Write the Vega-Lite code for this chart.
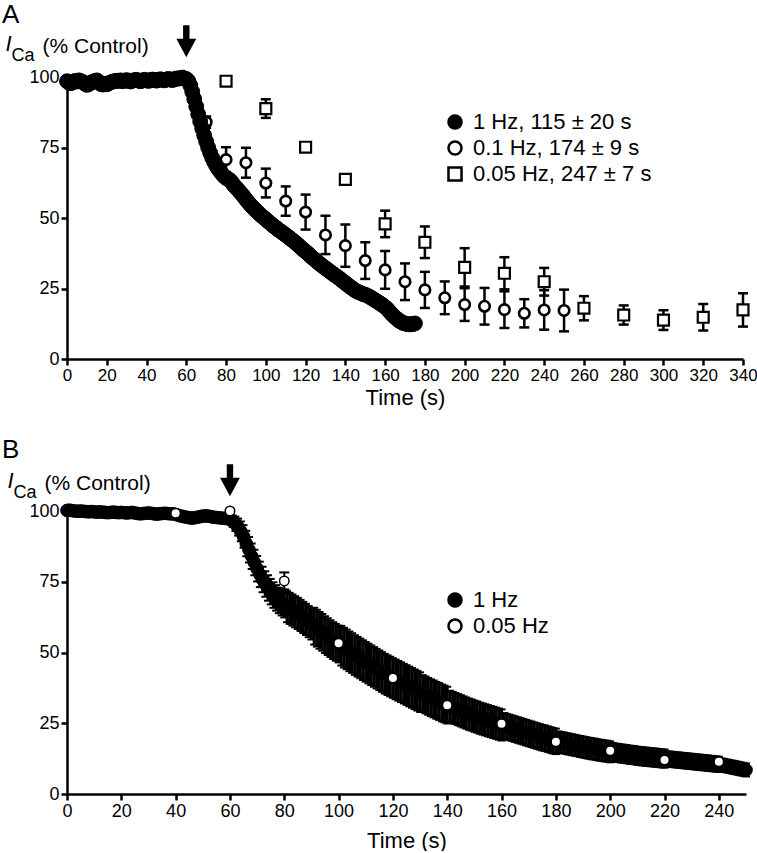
{
  "$schema": "https://vega.github.io/schema/vega-lite/v6.json",
  "background": "white",
  "padding": {"left": 2, "top": 2, "right": 0, "bottom": 0},
  "bounds": "flush",
  "spacing": 152,
  "config": {
    "font": "Liberation Sans",
    "view": {"stroke": null},
    "point": {"opacity": 1},
    "tick": {"opacity": 1},
    "rule": {"opacity": 1},
    "axis": {"domainColor": "black", "domainWidth": 2.5, "tickColor": "black", "tickWidth": 2.5, "tickSize": 6, "labelColor": "black", "labelFontSize": 18, "labelPadding": 2, "labelOverlap": false, "labelBound": false, "labelFlush": false, "titleColor": "black", "titleFontSize": 22, "titleFontWeight": "normal", "grid": false},
    "legend": {"labelFontSize": 22, "labelColor": "black", "labelLimit": 400, "symbolStrokeColor": "black", "symbolStrokeWidth": 2.5, "symbolSize": 170, "rowPadding": 2, "labelOffset": 7, "padding": 0},
    "title": {"fontSize": 26, "fontWeight": "normal", "color": "black", "anchor": "start", "frame": "group"}
  },
  "resolve": {"scale": {"shape": "independent", "fill": "independent"}, "legend": {"shape": "independent", "fill": "independent"}},
  "datasets": {
    "a1": [
      {"t":0,"v":98.5},{"t":1,"v":98},{"t":2,"v":97.8},{"t":3,"v":98.2},{"t":4,"v":98.6},{"t":5,"v":98.4},{"t":6,"v":98.8},{"t":7,"v":98.5},{"t":8,"v":98.2},{"t":9,"v":97.6},
      {"t":10,"v":97.2},{"t":11,"v":97.5},{"t":12,"v":98},{"t":13,"v":98.3},{"t":14,"v":98.6},{"t":15,"v":98.8},{"t":16,"v":98.3},{"t":17,"v":97.5},{"t":18,"v":97.3},{"t":19,"v":97.6},
      {"t":20,"v":97.4},{"t":21,"v":97.8},{"t":22,"v":98.1},{"t":23,"v":98.4},{"t":24,"v":98.5},{"t":25,"v":98.7},{"t":26,"v":98.6},{"t":27,"v":98.8},{"t":28,"v":98.5},{"t":29,"v":98.7},
      {"t":30,"v":98.9},{"t":31,"v":98.6},{"t":32,"v":98.4},{"t":33,"v":98.7},{"t":34,"v":98.9},{"t":35,"v":99},{"t":36,"v":98.7},{"t":37,"v":98.5},{"t":38,"v":98.8},{"t":39,"v":99},
      {"t":40,"v":98.8},{"t":41,"v":98.6},{"t":42,"v":98.9},{"t":43,"v":99.1},{"t":44,"v":98.9},{"t":45,"v":98.7},{"t":46,"v":99},{"t":47,"v":99.2},{"t":48,"v":99},{"t":49,"v":98.8},
      {"t":50,"v":99.1},{"t":51,"v":99.3},{"t":52,"v":99.1},{"t":53,"v":98.9},{"t":54,"v":99.2},{"t":55,"v":99.5},{"t":56,"v":99.4},{"t":57,"v":99.6},{"t":58,"v":99.8},{"t":59,"v":99.5},
      {"t":60,"v":99.3},{"t":61,"v":98.6},{"t":62,"v":97},{"t":63,"v":94.8},{"t":64,"v":92.2},{"t":65,"v":89.5},{"t":66,"v":86.8},{"t":67,"v":84.2},{"t":68,"v":81.7},{"t":69,"v":79.3},
      {"t":70,"v":77.1},{"t":71,"v":75},{"t":72,"v":73.1},{"t":73,"v":71.4},{"t":74,"v":69.9},{"t":75,"v":68.6},{"t":76,"v":67.5},{"t":77,"v":66.5},{"t":78,"v":65.6},{"t":79,"v":64.8},
      {"t":80,"v":64.2},{"t":81,"v":63.8},{"t":82,"v":63.4},{"t":83,"v":62.6},{"t":84,"v":61.5},{"t":85,"v":60.8},{"t":86,"v":60},{"t":87,"v":59.2},{"t":88,"v":58.4},{"t":89,"v":57.5},
      {"t":90,"v":56.6},{"t":91,"v":55.7},{"t":92,"v":54.9},{"t":93,"v":54.1},{"t":94,"v":53.4},{"t":95,"v":52.7},{"t":96,"v":52},{"t":97,"v":51.3},{"t":98,"v":50.7},{"t":99,"v":50.1},
      {"t":100,"v":49.5},{"t":101,"v":48.9},{"t":102,"v":48.3},{"t":103,"v":47.7},{"t":104,"v":47.1},{"t":105,"v":46.6},{"t":106,"v":46},{"t":107,"v":45.5},{"t":108,"v":45},{"t":109,"v":44.5},
      {"t":110,"v":44},{"t":111,"v":43.4},{"t":112,"v":42.9},{"t":113,"v":42.3},{"t":114,"v":41.8},{"t":115,"v":41.2},{"t":116,"v":40.6},{"t":117,"v":39.9},{"t":118,"v":39.3},{"t":119,"v":38.7},
      {"t":120,"v":38.1},{"t":121,"v":37.5},{"t":122,"v":36.9},{"t":123,"v":36.2},{"t":124,"v":35.6},{"t":125,"v":35},{"t":126,"v":34.4},{"t":127,"v":33.8},{"t":128,"v":33.3},{"t":129,"v":32.7},
      {"t":130,"v":32.2},{"t":131,"v":31.7},{"t":132,"v":31.1},{"t":133,"v":30.6},{"t":134,"v":30.1},{"t":135,"v":29.6},{"t":136,"v":29.1},{"t":137,"v":28.6},{"t":138,"v":28},{"t":139,"v":27.5},
      {"t":140,"v":26.9},{"t":141,"v":26.4},{"t":142,"v":25.8},{"t":143,"v":25.3},{"t":144,"v":24.8},{"t":145,"v":24.3},{"t":146,"v":23.9},{"t":147,"v":23.6},{"t":148,"v":23.3},{"t":149,"v":23},
      {"t":150,"v":22.8},{"t":151,"v":22.5},{"t":152,"v":22.1},{"t":153,"v":21.7},{"t":154,"v":21.3},{"t":155,"v":20.8},{"t":156,"v":20.4},{"t":157,"v":19.9},{"t":158,"v":19.5},{"t":159,"v":19},
      {"t":160,"v":18.4},{"t":161,"v":17.8},{"t":162,"v":17},{"t":163,"v":16.2},{"t":164,"v":15.5},{"t":165,"v":14.8},{"t":166,"v":14.2},{"t":167,"v":13.6},{"t":168,"v":13.2},{"t":169,"v":12.8},
      {"t":170,"v":12.6},{"t":171,"v":12.4},{"t":172,"v":12.3},{"t":173,"v":12.3},{"t":174,"v":12.4},{"t":175,"v":12.6}
    ],
    "a2": [
      {"t":70,"v":84,"e":2},{"t":80,"v":70.7,"e":4.4},{"t":90,"v":69.6,"e":5.3},{"t":100,"v":62.4,"e":5.1},{"t":110,"v":56,"e":5.2},
      {"t":120,"v":52.1,"e":6.2},{"t":130,"v":44,"e":6.8},{"t":140,"v":40.2,"e":7.5},{"t":150,"v":34.9,"e":6.5},{"t":160,"v":31.6,"e":6.7},
      {"t":170,"v":27.4,"e":6.5},{"t":180,"v":24.5,"e":6.4},{"t":190,"v":21.7,"e":5.8},{"t":200,"v":19.3,"e":5.8},{"t":210,"v":18.7,"e":6.5},
      {"t":220,"v":17.5,"e":6.5},{"t":230,"v":16.2,"e":5},{"t":240,"v":17.4,"e":7},{"t":250,"v":17.2,"e":7.4}
    ],
    "a3": [
      {"t":80,"v":98.5,"e":0.5},{"t":100,"v":88.8,"e":3.3},{"t":120,"v":75.1,"e":1.2},{"t":140,"v":63.7,"e":1.2},{"t":160,"v":47.9,"e":4.7},
      {"t":180,"v":41.4,"e":5.6},{"t":200,"v":32.5,"e":6.8},{"t":220,"v":30.4,"e":5.7},{"t":240,"v":27.4,"e":4.9},{"t":260,"v":18,"e":4.3},
      {"t":280,"v":15.6,"e":3.4},{"t":300,"v":13.8,"e":3.5},{"t":320,"v":14.8,"e":4.7},{"t":340,"v":17.4,"e":5.9}
    ],
    "b1": [
      {"t":0,"v":100.2,"e":1},{"t":1,"v":100.3,"e":1},{"t":2,"v":100.1,"e":1},{"t":3,"v":100,"e":1},{"t":4,"v":99.9,"e":1},{"t":5,"v":100,"e":1},{"t":6,"v":99.9,"e":1},{"t":7,"v":99.8,"e":1},{"t":8,"v":99.7,"e":1},{"t":9,"v":99.8,"e":1},
      {"t":10,"v":99.7,"e":1},{"t":11,"v":99.6,"e":1},{"t":12,"v":99.7,"e":1},{"t":13,"v":99.6,"e":1},{"t":14,"v":99.5,"e":1},{"t":15,"v":99.4,"e":1},{"t":16,"v":99.5,"e":1},{"t":17,"v":99.6,"e":1},{"t":18,"v":99.5,"e":1},{"t":19,"v":99.4,"e":1},
      {"t":20,"v":99.5,"e":1},{"t":21,"v":99.4,"e":1},{"t":22,"v":99.3,"e":1},{"t":23,"v":99.4,"e":1},{"t":24,"v":99.5,"e":1},{"t":25,"v":99.3,"e":1},{"t":26,"v":99.1,"e":1},{"t":27,"v":99,"e":1},{"t":28,"v":99.1,"e":1},{"t":29,"v":99.2,"e":1},
      {"t":30,"v":99.3,"e":1},{"t":31,"v":99.2,"e":1},{"t":32,"v":99,"e":1},{"t":33,"v":98.9,"e":1},{"t":34,"v":99,"e":1},{"t":35,"v":99.1,"e":1},{"t":36,"v":99.2,"e":1},{"t":37,"v":99.1,"e":1},{"t":38,"v":99,"e":1},{"t":39,"v":99,"e":1},
      {"t":40,"v":98.8,"e":1},{"t":41,"v":98.5,"e":1.5},{"t":42,"v":98.2,"e":1.5},{"t":43,"v":98,"e":1.5},{"t":44,"v":97.8,"e":1.5},{"t":45,"v":97.6,"e":1.5},{"t":46,"v":97.5,"e":1.5},{"t":47,"v":97.6,"e":1.5},{"t":48,"v":97.8,"e":1.5},{"t":49,"v":98,"e":1.5},
      {"t":50,"v":98.2,"e":1.5},{"t":51,"v":98.3,"e":1.5},{"t":52,"v":98.2,"e":1.5},{"t":53,"v":98,"e":1.5},{"t":54,"v":97.8,"e":1.5},{"t":55,"v":97.7,"e":1.5},{"t":56,"v":97.6,"e":1.5},{"t":57,"v":97.5,"e":1.5},{"t":58,"v":97.4,"e":1.5},{"t":59,"v":97.3,"e":1.5},
      {"t":60,"v":97,"e":1.5},{"t":61,"v":96.4,"e":2},{"t":62,"v":95.5,"e":2.5},{"t":63,"v":94.3,"e":3},{"t":64,"v":92.8,"e":3.5},{"t":65,"v":91,"e":4},{"t":66,"v":88.5,"e":4.5},{"t":67,"v":86.3,"e":4.5},{"t":68,"v":84,"e":4.5},{"t":69,"v":81.8,"e":4.5},
      {"t":70,"v":79.6,"e":4.5},{"t":71,"v":77.6,"e":4.5},{"t":72,"v":75.8,"e":4.5},{"t":73,"v":74.2,"e":4.5},{"t":74,"v":72.8,"e":4.5},{"t":75,"v":71.5,"e":4.5},{"t":76,"v":70.3,"e":4.5},{"t":77,"v":69.3,"e":4.5},{"t":78,"v":68.4,"e":4.5},{"t":79,"v":67.6,"e":4.5},
      {"t":80,"v":66.9,"e":4.5},{"t":81,"v":66.2,"e":5.5},{"t":82,"v":65.6,"e":5.5},{"t":83,"v":65,"e":5.5},{"t":84,"v":64.4,"e":5.5},{"t":85,"v":63.8,"e":5.5},{"t":86,"v":63.1,"e":5.5},{"t":87,"v":62.4,"e":5.5},{"t":88,"v":61.7,"e":5.5},{"t":89,"v":60.9,"e":5.5},
      {"t":90,"v":60.1,"e":5.5},{"t":91,"v":59.3,"e":6.5},{"t":92,"v":58.6,"e":6.5},{"t":93,"v":57.8,"e":6.5},{"t":94,"v":57.1,"e":6.5},{"t":95,"v":56.3,"e":6.5},{"t":96,"v":55.6,"e":6.5},{"t":97,"v":54.9,"e":6.5},{"t":98,"v":54.2,"e":6.5},{"t":99,"v":53.6,"e":6.5},
      {"t":100,"v":53,"e":6.5},{"t":101,"v":52.4,"e":7},{"t":102,"v":51.7,"e":7},{"t":103,"v":51.1,"e":7},{"t":104,"v":50.4,"e":7},{"t":105,"v":49.8,"e":7},{"t":106,"v":49.1,"e":7},{"t":107,"v":48.5,"e":7},{"t":108,"v":47.9,"e":7},{"t":109,"v":47.3,"e":7},
      {"t":110,"v":46.7,"e":7},{"t":111,"v":46.1,"e":7},{"t":112,"v":45.5,"e":7},{"t":113,"v":44.9,"e":7},{"t":114,"v":44.3,"e":7},{"t":115,"v":43.7,"e":7},{"t":116,"v":43.1,"e":7},{"t":117,"v":42.5,"e":7},{"t":118,"v":42,"e":7},{"t":119,"v":41.5,"e":7},
      {"t":120,"v":41,"e":7},{"t":121,"v":40.5,"e":7},{"t":122,"v":40,"e":7},{"t":123,"v":39.5,"e":7},{"t":124,"v":39,"e":7},{"t":125,"v":38.5,"e":7},{"t":126,"v":38,"e":7},{"t":127,"v":37.5,"e":7},{"t":128,"v":37,"e":7},{"t":129,"v":36.5,"e":7},
      {"t":130,"v":36,"e":7},{"t":131,"v":35.5,"e":6.5},{"t":132,"v":35,"e":6.5},{"t":133,"v":34.5,"e":6.5},{"t":134,"v":34,"e":6.5},{"t":135,"v":33.6,"e":6.5},{"t":136,"v":33.1,"e":6.5},{"t":137,"v":32.7,"e":6.5},{"t":138,"v":32.2,"e":6.5},{"t":139,"v":31.8,"e":6.5},
      {"t":140,"v":31.4,"e":6.5},{"t":141,"v":31,"e":5.5},{"t":142,"v":30.6,"e":5.5},{"t":143,"v":30.2,"e":5.5},{"t":144,"v":29.8,"e":5.5},{"t":145,"v":29.4,"e":5.5},{"t":146,"v":29,"e":5.5},{"t":147,"v":28.6,"e":5.5},{"t":148,"v":28.2,"e":5.5},{"t":149,"v":27.9,"e":5.5},
      {"t":150,"v":27.5,"e":5.5},{"t":151,"v":27.2,"e":5.5},{"t":152,"v":26.8,"e":5.5},{"t":153,"v":26.5,"e":5.5},{"t":154,"v":26.2,"e":5.5},{"t":155,"v":25.9,"e":5.5},{"t":156,"v":25.6,"e":5.5},{"t":157,"v":25.3,"e":5.5},{"t":158,"v":25,"e":5.5},{"t":159,"v":24.7,"e":5.5},
      {"t":160,"v":24.4,"e":5.5},{"t":161,"v":24.1,"e":4.5},{"t":162,"v":23.8,"e":4.5},{"t":163,"v":23.5,"e":4.5},{"t":164,"v":23.2,"e":4.5},{"t":165,"v":22.9,"e":4.5},{"t":166,"v":22.6,"e":4.5},{"t":167,"v":22.3,"e":4.5},{"t":168,"v":22,"e":4.5},{"t":169,"v":21.7,"e":4.5},
      {"t":170,"v":21.4,"e":4.5},{"t":171,"v":21.1,"e":4.5},{"t":172,"v":20.8,"e":4.5},{"t":173,"v":20.5,"e":4.5},{"t":174,"v":20.2,"e":4.5},{"t":175,"v":19.9,"e":4.5},{"t":176,"v":19.7,"e":4.5},{"t":177,"v":19.4,"e":4.5},{"t":178,"v":19.1,"e":4.5},{"t":179,"v":18.8,"e":4.5},
      {"t":180,"v":18.6,"e":4.5},{"t":181,"v":18.4,"e":3.7},{"t":182,"v":18.2,"e":3.7},{"t":183,"v":18,"e":3.7},{"t":184,"v":17.8,"e":3.7},{"t":185,"v":17.6,"e":3.7},{"t":186,"v":17.4,"e":3.7},{"t":187,"v":17.2,"e":3.7},{"t":188,"v":17,"e":3.7},{"t":189,"v":16.8,"e":3.7},
      {"t":190,"v":16.6,"e":3.7},{"t":191,"v":16.4,"e":3.7},{"t":192,"v":16.2,"e":3.7},{"t":193,"v":16,"e":3.7},{"t":194,"v":15.9,"e":3.7},{"t":195,"v":15.7,"e":3.7},{"t":196,"v":15.5,"e":3.7},{"t":197,"v":15.4,"e":3.7},{"t":198,"v":15.2,"e":3.7},{"t":199,"v":15.1,"e":3.7},
      {"t":200,"v":14.9,"e":3.7},{"t":201,"v":14.8,"e":3.2},{"t":202,"v":14.6,"e":3.2},{"t":203,"v":14.5,"e":3.2},{"t":204,"v":14.3,"e":3.2},{"t":205,"v":14.2,"e":3.2},{"t":206,"v":14.1,"e":3.2},{"t":207,"v":13.9,"e":3.2},{"t":208,"v":13.8,"e":3.2},{"t":209,"v":13.7,"e":3.2},
      {"t":210,"v":13.5,"e":3.2},{"t":211,"v":13.4,"e":3.2},{"t":212,"v":13.3,"e":3.2},{"t":213,"v":13.2,"e":3.2},{"t":214,"v":13.1,"e":3.2},{"t":215,"v":13,"e":3.2},{"t":216,"v":12.9,"e":3.2},{"t":217,"v":12.8,"e":3.2},{"t":218,"v":12.7,"e":3.2},{"t":219,"v":12.6,"e":3.2},
      {"t":220,"v":12.5,"e":3.2},{"t":221,"v":12.4,"e":2.7},{"t":222,"v":12.3,"e":2.7},{"t":223,"v":12.2,"e":2.7},{"t":224,"v":12.1,"e":2.7},{"t":225,"v":12,"e":2.7},{"t":226,"v":11.9,"e":2.7},{"t":227,"v":11.8,"e":2.7},{"t":228,"v":11.7,"e":2.7},{"t":229,"v":11.6,"e":2.7},
      {"t":230,"v":11.5,"e":2.7},{"t":231,"v":11.4,"e":2.7},{"t":232,"v":11.3,"e":2.7},{"t":233,"v":11.2,"e":2.7},{"t":234,"v":11.1,"e":2.7},{"t":235,"v":11,"e":2.7},{"t":236,"v":10.9,"e":2.7},{"t":237,"v":10.8,"e":2.7},{"t":238,"v":10.7,"e":2.7},{"t":239,"v":10.6,"e":2.7},
      {"t":240,"v":10.5,"e":2.7},{"t":241,"v":10.3,"e":2.3},{"t":242,"v":10.1,"e":2.3},{"t":243,"v":9.9,"e":2.3},{"t":244,"v":9.7,"e":2.3},{"t":245,"v":9.5,"e":2.3},{"t":246,"v":9.3,"e":2.3},{"t":247,"v":9.1,"e":2.3},{"t":248,"v":8.9,"e":2.3},{"t":249,"v":8.7,"e":2.3},
      {"t":250,"v":8.5,"e":2.3}
    ],
    "b2": [
      {"t":40,"v":99.2,"e":0.5},{"t":60,"v":100,"e":0.5},{"t":80,"v":75.3,"e":3},{"t":100,"v":53.3,"e":2},{"t":120,"v":41,"e":2},{"t":140,"v":31.4,"e":1.5},
      {"t":160,"v":24.8,"e":1.5},{"t":180,"v":18.5,"e":1},{"t":200,"v":15.3,"e":1},{"t":220,"v":12,"e":1},{"t":240,"v":11.4,"e":1}
    ],
    "one": [{}]
  },
  "vconcat": [
    {
      "width": 676,
      "height": 282,
      "title": {"text": "A", "dx": -65, "offset": -3},
      "resolve": {"axis": {"x": "independent", "y": "independent"}},
      "layer": [
        {
          "data": {"name": "a3"},
          "mark": {"type": "errorbar", "ticks": {"size": 10, "thickness": 2.5, "color": "black", "opacity": 1}, "rule": {"opacity": 1}, "thickness": 2.5, "color": "black"},
          "encoding": {
            "x": {"field": "t", "type": "quantitative", "scale": {"domain": [0, 340], "nice": false}, "axis": null},
            "y": {"field": "v", "type": "quantitative", "scale": {"domain": [0, 100], "nice": false}, "axis": null},
            "yError": {"field": "e"}
          }
        },
        {
          "data": {"name": "a3"},
          "mark": {"type": "point", "filled": true, "stroke": "black", "strokeWidth": 2.2, "size": 120},
          "encoding": {
            "x": {"field": "t", "type": "quantitative", "axis": null},
            "y": {"field": "v", "type": "quantitative", "axis": null},
            "shape": {"datum": "0.05 Hz, 247 ± 7 s", "type": "nominal", "scale": {"domain": ["1 Hz, 115 ± 20 s", "0.1 Hz, 174 ± 9 s", "0.05 Hz, 247 ± 7 s"], "range": ["circle", "circle", "square"]},
              "legend": {"title": null, "orient": "none", "legendX": 377, "legendY": 34, "symbolStrokeColor": "black", "symbolStrokeWidth": 2.5, "encode": {"symbols": {"update": {"stroke": {"value": "black"}, "strokeWidth": {"value": 2.5}}}}}},
            "fill": {"datum": "0.05 Hz, 247 ± 7 s", "type": "nominal", "scale": {"domain": ["1 Hz, 115 ± 20 s", "0.1 Hz, 174 ± 9 s", "0.05 Hz, 247 ± 7 s"], "range": ["black", "white", "white"]},
              "legend": {"title": null, "orient": "none", "legendX": 377, "legendY": 34, "symbolStrokeColor": "black", "symbolStrokeWidth": 2.5, "encode": {"symbols": {"update": {"stroke": {"value": "black"}, "strokeWidth": {"value": 2.5}}}}}}
          }
        },
        {
          "data": {"name": "a2"},
          "mark": {"type": "errorbar", "ticks": {"size": 10, "thickness": 2.5, "color": "black", "opacity": 1}, "rule": {"opacity": 1}, "thickness": 2.5, "color": "black"},
          "encoding": {
            "x": {"field": "t", "type": "quantitative", "axis": null},
            "y": {"field": "v", "type": "quantitative", "axis": null},
            "yError": {"field": "e"}
          }
        },
        {
          "data": {"name": "a2"},
          "mark": {"type": "point", "filled": true, "stroke": "black", "strokeWidth": 2.6, "size": 110},
          "encoding": {
            "x": {"field": "t", "type": "quantitative", "axis": null},
            "y": {"field": "v", "type": "quantitative", "axis": null},
            "shape": {"datum": "0.1 Hz, 174 ± 9 s", "type": "nominal"},
            "fill": {"datum": "0.1 Hz, 174 ± 9 s", "type": "nominal"}
          }
        },
        {
          "data": {"name": "a1"},
          "mark": {"type": "point", "filled": true, "stroke": "black", "strokeWidth": 1, "size": 220},
          "encoding": {
            "x": {"field": "t", "type": "quantitative",
              "axis": {"orient": "bottom", "values": [0,20,40,60,80,100,120,140,160,180,200,220,240,260,280,300,320,340], "title": "Time (s)", "titlePadding": 4, "labelFontSize": 17}},
            "y": {"field": "v", "type": "quantitative",
              "axis": {"orient": "left", "values": [0,25,50,75,100], "title": "I", "titleFontStyle": "italic", "titleFontSize": 22, "titleAngle": 0, "titleAlign": "left", "titleBaseline": "alphabetic", "titleX": -62, "titleY": -27}},
            "shape": {"datum": "1 Hz, 115 ± 20 s", "type": "nominal"},
            "fill": {"datum": "1 Hz, 115 ± 20 s", "type": "nominal"}
          }
        },
        {
          "data": {"name": "one"},
          "mark": {"type": "point", "shape": "M-0.2,-1L0.2,-1L0.2,-0.15L0.62,-0.15L0,1L-0.62,-0.15L-0.2,-0.15Z", "size": 1024, "filled": true, "color": "black"},
          "encoding": {
            "x": {"datum": 60, "type": "quantitative",
              "axis": {"orient": "top", "title": "Ca", "domain": false, "ticks": false, "labels": false, "titleFontSize": 18, "titleAngle": 0, "titleAlign": "left", "titleBaseline": "alphabetic", "titleX": -56, "titleY": -17}},
            "y": {"datum": 112.7, "type": "quantitative",
              "axis": {"orient": "right", "title": "(% Control)", "domain": false, "ticks": false, "labels": false, "titleFontSize": 21, "titleAngle": 0, "titleAlign": "left", "titleBaseline": "alphabetic", "titleX": -701, "titleY": -25}}
          }
        }
      ]
    },
    {
      "width": 679,
      "height": 283,
      "title": {"text": "B", "dx": -65, "offset": 1},
      "resolve": {"axis": {"x": "independent", "y": "independent"}},
      "layer": [
        {
          "data": {"name": "b1"},
          "mark": {"type": "errorbar", "ticks": {"size": 8, "thickness": 2, "color": "black", "opacity": 1}, "rule": {"opacity": 1}, "thickness": 3, "color": "black"},
          "encoding": {
            "x": {"field": "t", "type": "quantitative", "scale": {"domain": [0, 250], "nice": false}, "axis": null},
            "y": {"field": "v", "type": "quantitative", "scale": {"domain": [0, 100], "nice": false}, "axis": null},
            "yError": {"field": "e"}
          }
        },
        {
          "data": {"name": "b1"},
          "mark": {"type": "point", "filled": true, "stroke": "black", "strokeWidth": 1, "size": 160},
          "encoding": {
            "x": {"field": "t", "type": "quantitative",
              "axis": {"orient": "bottom", "values": [0,20,40,60,80,100,120,140,160,180,200,220,240], "title": "Time (s)", "titlePadding": 10}},
            "y": {"field": "v", "type": "quantitative",
              "axis": {"orient": "left", "values": [0,25,50,75,100], "title": "I", "titleFontStyle": "italic", "titleFontSize": 22, "titleAngle": 0, "titleAlign": "left", "titleBaseline": "alphabetic", "titleX": -60, "titleY": -24}},
            "shape": {"datum": "1 Hz", "type": "nominal", "scale": {"domain": ["1 Hz", "0.05 Hz"], "range": ["circle", "circle"]},
              "legend": {"title": null, "orient": "none", "legendX": 377, "legendY": 78, "symbolStrokeColor": "black", "symbolStrokeWidth": 2.5, "encode": {"symbols": {"update": {"stroke": {"value": "black"}, "strokeWidth": {"value": 2.5}}}}}},
            "fill": {"datum": "1 Hz", "type": "nominal", "scale": {"domain": ["1 Hz", "0.05 Hz"], "range": ["black", "white"]},
              "legend": {"title": null, "orient": "none", "legendX": 377, "legendY": 78, "symbolStrokeColor": "black", "symbolStrokeWidth": 2.5, "encode": {"symbols": {"update": {"stroke": {"value": "black"}, "strokeWidth": {"value": 2.5}}}}}}
          }
        },
        {
          "data": {"name": "b2"},
          "mark": {"type": "errorbar", "ticks": {"size": 10, "thickness": 2, "color": "black", "opacity": 1}, "rule": {"opacity": 1}, "thickness": 2, "color": "black"},
          "encoding": {
            "x": {"field": "t", "type": "quantitative", "axis": null},
            "y": {"field": "v", "type": "quantitative", "axis": null},
            "yError": {"field": "e"}
          }
        },
        {
          "data": {"name": "b2"},
          "mark": {"type": "point", "filled": true, "stroke": "black", "strokeWidth": 1.5, "size": 90},
          "encoding": {
            "x": {"field": "t", "type": "quantitative", "axis": null},
            "y": {"field": "v", "type": "quantitative", "axis": null},
            "shape": {"datum": "0.05 Hz", "type": "nominal"},
            "fill": {"datum": "0.05 Hz", "type": "nominal"}
          }
        },
        {
          "data": {"name": "one"},
          "mark": {"type": "point", "shape": "M-0.2,-1L0.2,-1L0.2,-0.15L0.62,-0.15L0,1L-0.62,-0.15L-0.2,-0.15Z", "size": 1024, "filled": true, "color": "black"},
          "encoding": {
            "x": {"datum": 60, "type": "quantitative",
              "axis": {"orient": "top", "title": "Ca", "domain": false, "ticks": false, "labels": false, "titleFontSize": 18, "titleAngle": 0, "titleAlign": "left", "titleBaseline": "alphabetic", "titleX": -54, "titleY": -14}},
            "y": {"datum": 110.9, "type": "quantitative",
              "axis": {"orient": "right", "title": "(% Control)", "domain": false, "ticks": false, "labels": false, "titleFontSize": 21, "titleAngle": 0, "titleAlign": "left", "titleBaseline": "alphabetic", "titleX": -702, "titleY": -22}}
          }
        }
      ]
    }
  ]
}
